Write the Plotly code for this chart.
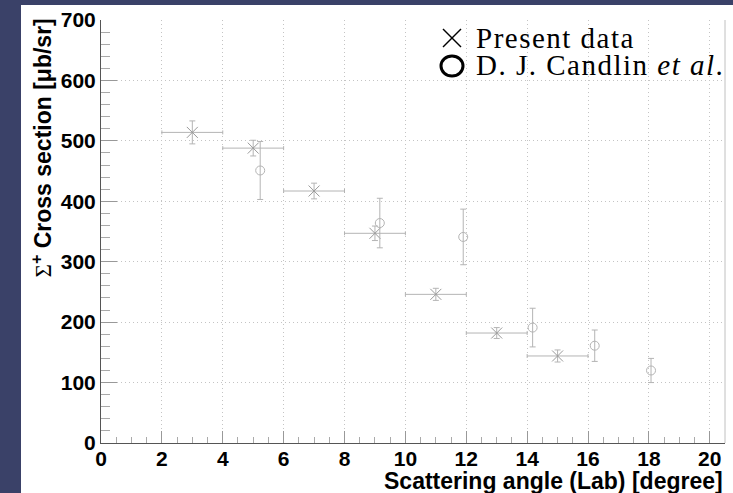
import plotly.graph_objects as go

# Present data: Sigma+ differential cross section vs. lab scattering angle
present_angle = [3, 5, 7, 9, 11, 13, 15]
present_angle_halfwidth = [1, 1, 1, 1, 1, 1, 1]
present_xsec = [514, 488, 417, 347, 246, 182, 144]
present_err = [19, 13, 13, 12, 10, 9, 10]

# D. J. Candlin et al.
candlin_angle = [5.23, 9.16, 11.9, 14.18, 16.22, 18.07]
candlin_xsec = [451, 364, 341, 191, 161, 120]
candlin_err = [48, 41, 46, 32, 26, 20]

legend_labels = ["Present data", "D. J. Candlin <i>et al</i>."]

NAVY = "#3a4168"
GRAY = "#b4b4b4"
SANS = "Liberation Sans"
SERIF = "Liberation Serif"

W, H = 733, 493
L, R, T, B = 101, 8, 20, 50
pw, ph = W - L - R, H - T - B


def px_x(p):
    return (p - L) / pw


def px_y(p):
    return (H - B - p) / ph


fig = go.Figure()

fig.add_trace(go.Scatter(
    x=present_angle, y=present_xsec, mode="markers", showlegend=False,
    marker=dict(symbol="x-thin-open", size=11, color="#9a9a9a",
                line=dict(width=1, color="#9a9a9a")),
    error_x=dict(type="data", array=present_angle_halfwidth, color=GRAY,
                 thickness=1, width=2),
    error_y=dict(type="data", array=present_err, color=GRAY,
                 thickness=1, width=3),
))

fig.add_trace(go.Scatter(
    x=candlin_angle, y=candlin_xsec, mode="markers", showlegend=False,
    marker=dict(symbol="circle-open", size=9, color=GRAY,
                line=dict(width=1, color=GRAY)),
    error_y=dict(type="data", array=candlin_err, color=GRAY,
                 thickness=1, width=3),
))

axis_common = dict(
    showgrid=True, gridcolor="#c4c4c4", griddash="1px,3px", gridwidth=1,
    zeroline=False, showline=True, linecolor="#555555", linewidth=1,
    ticks="inside", tickcolor="#999999", tickwidth=1,
    tickfont=dict(family=SANS, size=21, color="black", weight="bold"),
)

fig.update_xaxes(
    range=[0, 20.5], dtick=2, tick0=0, ticklen=12, ticklabelstandoff=-3,
    minor=dict(dtick=0.5, ticks="inside", ticklen=6, tickcolor="#aaaaaa",
               showgrid=False),
    **axis_common,
)
fig.update_yaxes(
    range=[0, 700], dtick=100, tick0=0, ticklen=16,
    minor=dict(dtick=20, ticks="inside", ticklen=9, tickcolor="#aaaaaa",
               showgrid=False),
    **axis_common,
)

# legend symbols: a thin cross and a thick open circle
lx, ly1, ly2 = 452, 38, 66
cross = 9
legend_shapes = [
    dict(type="line", xref="paper", yref="paper",
         x0=px_x(lx - cross), x1=px_x(lx + cross),
         y0=px_y(ly1 - cross), y1=px_y(ly1 + cross),
         line=dict(color="black", width=1.5)),
    dict(type="line", xref="paper", yref="paper",
         x0=px_x(lx - cross), x1=px_x(lx + cross),
         y0=px_y(ly1 + cross), y1=px_y(ly1 - cross),
         line=dict(color="black", width=1.5)),
    dict(type="circle", xref="paper", yref="paper",
         x0=px_x(lx - 11), x1=px_x(lx + 11),
         y0=px_y(ly2 + 10), y1=px_y(ly2 - 10),
         line=dict(color="black", width=3)),
]

legend_text = [
    dict(text=f"<span style='letter-spacing:1.5px'>{lab}</span>",
         xref="paper", yref="paper", x=px_x(474), xanchor="left",
         y=px_y(yy), yanchor="middle", showarrow=False,
         font=dict(family=SERIF, size=29, color="black"))
    for lab, yy in zip(legend_labels, [ly1, ly2 - 1])
]

fig.update_layout(
    width=W, height=H,
    margin=dict(l=L, r=R, t=T, b=B, pad=0),
    paper_bgcolor=NAVY, plot_bgcolor="white",
    showlegend=False,
    shapes=[
        # white canvas behind the frame
        dict(type="rect", xref="paper", yref="paper",
             x0=px_x(21), x1=px_x(740), y0=px_y(500), y1=px_y(5),
             fillcolor="white", line=dict(width=0), layer="below"),
        # right frame line
        dict(type="line", xref="paper", yref="paper",
             x0=1, x1=1, y0=0, y1=1, line=dict(color="#c0c0c0", width=1)),
    ] + legend_shapes,
    annotations=[
        dict(text="Scattering angle (Lab) [degree]", xref="paper", yref="paper",
             x=1.0, xanchor="right", y=px_y(481), yanchor="middle",
             showarrow=False,
             font=dict(family=SANS, size=23, color="black", weight="bold")),
        dict(text="<span style='font-family:Liberation Serif;font-weight:normal'>Σ</span>"
                  "<sup>+</sup> Cross section [μb/sr]",
             xref="paper", yref="paper", textangle=-90,
             x=px_x(41), xanchor="center", y=px_y(17), yanchor="top",
             showarrow=False,
             font=dict(family=SANS, size=23, color="black", weight="bold")),
    ] + legend_text,
)

fig.write_html("out.html")
